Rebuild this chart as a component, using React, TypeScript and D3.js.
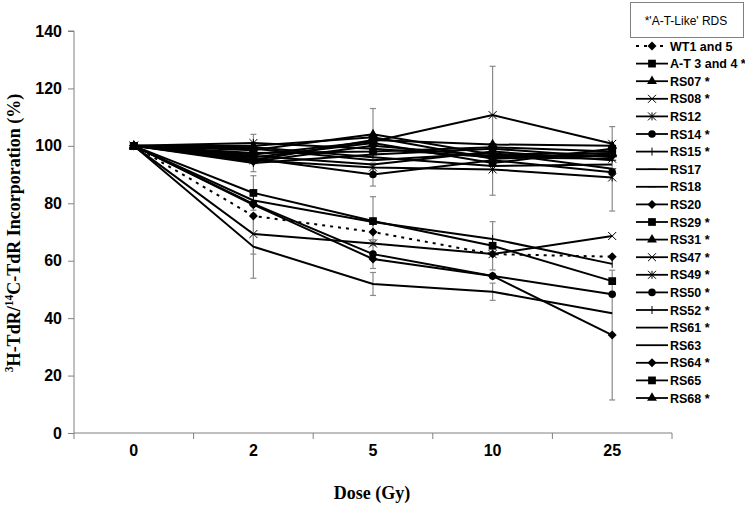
import * as d3 from "d3";
import { useEffect, useRef } from "react";

const doses = ["0", "2", "5", "10", "25"];
const yTicks = [0, 20, 40, 60, 80, 100, 120, 140];

const seriesNames = [
  "WT1 and 5", "A-T 3 and 4 *", "RS07 *", "RS08 *", "RS12", "RS14 *", "RS15 *",
  "RS17", "RS18", "RS20", "RS29 *", "RS31 *", "RS47 *", "RS49 *", "RS50 *",
  "RS52 *", "RS61 *", "RS63", "RS64 *", "RS65", "RS68 *",
];
const seriesMarkers = [
  "diamond", "square", "triangle", "cross", "star", "circle", "plus",
  "dash", "dash", "diamond", "square", "triangle", "cross", "star", "circle",
  "plus", "none", "none", "diamond", "square", "triangle",
];
const seriesValues = [
  [100, 75.6, 70, 62.3, 61.4],
  [100, 83.6, 73.8, 65.2, 52.9],
  [100, 98.5, 104, 97, 97.5],
  [100, 97, 101.5, 110.7, 100.7],
  [100, 101, 99, 96, 95.5],
  [100, 95.5, 90, 95, 90.8],
  [100, 94, 97, 99, 96],
  [100, 99, 95, 97.5, 92],
  [100, 96.5, 93.5, 98, 95],
  [100, 94.5, 100, 96.5, 96.5],
  [100, 97.5, 98, 99.5, 98],
  [100, 100, 103, 95.5, 97],
  [100, 69.3, 66, 62.3, 68.6],
  [100, 95, 92.5, 91.8, 89],
  [100, 79.8, 62.3, 54.7, 48.3],
  [100, 81, 73.5, 67.6, 58.9],
  [100, 64.9, 51.9, 49.2, 41.7],
  [100, 99.5, 96, 93, 93.5],
  [100, 79.5, 60.6, 54.7, 34.1],
  [100, 96, 101, 94, 99],
  [100, 95, 102, 100.5, 100],
];
// error (+/-) per series and dose, 0 = none
const seriesErrors = [
  [0, 0, 0, 0, 0],
  [0, 6, 8.5, 8.4, 0],
  [0, 0, 9, 0, 0],
  [0, 0, 0, 17, 0],
  [0, 0, 0, 0, 0],
  [0, 0, 4, 0, 0],
  [0, 0, 0, 0, 0],
  [0, 0, 0, 0, 14.7],
  [0, 0, 0, 0, 0],
  [0, 0, 0, 0, 0],
  [0, 6.5, 0, 0, 0],
  [0, 0, 0, 0, 0],
  [0, 7, 0, 0, 0],
  [0, 0, 0, 9, 0],
  [0, 0, 5, 0, 0],
  [0, 0, 0, 0, 0],
  [0, 11, 4, 3, 0],
  [0, 0, 0, 0, 0],
  [0, 0, 0, 0, 22.6],
  [0, 0, 0, 0, 0],
  [0, 0, 0, 0, 0],
];

const W = 745;
const H = 505;
const plot = { left: 74, right: 672, top: 31, bottom: 433 };

function markerPath(kind: string): string | null {
  const s = 4;
  switch (kind) {
    case "diamond": return "M0,-4.5L4.5,0L0,4.5L-4.5,0Z";
    case "square": return d3.symbol(d3.symbolSquare, 60)() as string;
    case "triangle": return d3.symbol(d3.symbolTriangle, 42)() as string;
    case "circle": return d3.symbol(d3.symbolCircle, 45)() as string;
    case "cross": return `M${-s},${-s}L${s},${s}M${-s},${s}L${s},${-s}`;
    case "star": return `M${-s},${-s}L${s},${s}M${-s},${s}L${s},${-s}M0,${-s}L0,${s}`;
    case "plus": return `M0,${-s}L0,${s}`;
    case "dash": return `M${-s},0L${s},0`;
    default: return null;
  }
}
const filled = (k: string) => ["diamond", "square", "triangle", "circle"].includes(k);

export default function App() {
  const yAxisRef = useRef<SVGGElement>(null);
  const xAxisRef = useRef<SVGGElement>(null);

  const x = d3.scaleBand(doses, [plot.left, plot.right]);
  const cx = (d: string) => (x(d) as number) + x.bandwidth() / 2;
  const y = d3.scaleLinear([0, 140], [plot.bottom, plot.top]);
  const line = d3.line<number>().x((_, i) => cx(doses[i])).y((v) => y(v));

  useEffect(() => {
    const ya = d3.select(yAxisRef.current!);
    ya.call(d3.axisLeft(y).tickValues(yTicks).tickSize(6).tickPadding(6));
    ya.select(".domain").attr("stroke", "#808080").attr("d", `M-6,${plot.top}H0V${plot.bottom}`);
    ya.selectAll(".tick line").attr("stroke", "#808080");
    ya.selectAll(".tick text")
      .attr("font-family", "Liberation Sans, Arial, sans-serif")
      .attr("font-size", 16).attr("font-weight", "bold").attr("fill", "#000");

    const xa = d3.select(xAxisRef.current!);
    xa.call(d3.axisBottom(x).tickSize(0).tickPadding(12));
    xa.select(".domain").attr("stroke", "#808080").attr("d", `M${plot.left},0H${plot.right}`);
    xa.selectAll(".tick text")
      .attr("font-family", "Liberation Sans, Arial, sans-serif")
      .attr("font-size", 16).attr("font-weight", "bold").attr("fill", "#000");
    const bounds = doses.map((d) => x(d) as number).concat([plot.right]);
    xa.selectAll(".bound").data(bounds).join("line").attr("class", "bound")
      .attr("x1", (d) => d).attr("x2", (d) => d).attr("y1", 0).attr("y2", 6)
      .attr("stroke", "#808080");
  }, []);

  const legendY = (i: number) => 46 + i * 17.6;

  return (
    <svg width={W} height={H} style={{ position: "absolute", left: 0, top: 0, background: "#fff" }}>
      <g ref={yAxisRef} transform={`translate(${plot.left},0)`} />
      <g ref={xAxisRef} transform={`translate(0,${plot.bottom})`} />

      {/* error bars */}
      <g stroke="#8a8a8a" strokeWidth={1.2}>
        {seriesErrors.map((errs, si) =>
          errs.map((e, di) => {
            if (!e) return null;
            const v = seriesValues[si][di];
            const px = cx(doses[di]);
            return (
              <g key={`${si}-${di}`}>
                <line x1={px} x2={px} y1={y(v + e)} y2={y(v - e)} />
                <line x1={px - 3} x2={px + 3} y1={y(v + e)} y2={y(v + e)} />
                <line x1={px - 3} x2={px + 3} y1={y(v - e)} y2={y(v - e)} />
              </g>
            );
          })
        )}
      </g>

      {/* lines */}
      <g fill="none" stroke="#000" strokeWidth={2}>
        {seriesValues.map((vals, si) => (
          <path key={si} d={line(vals) as string} strokeDasharray={si === 0 ? "3,5" : undefined} />
        ))}
      </g>

      {/* markers */}
      <g>
        {seriesValues.map((vals, si) => {
          const p = markerPath(seriesMarkers[si]);
          if (!p) return null;
          const f = filled(seriesMarkers[si]);
          return vals.map((v, di) => (
            <path key={`${si}-${di}`} d={p} transform={`translate(${cx(doses[di])},${y(v)})`}
              fill={f ? "#000" : "none"} stroke="#000" strokeWidth={f ? 0 : 1} />
          ));
        })}
      </g>

      {/* axis titles */}
      <text x={372} y={499} textAnchor="middle" fontFamily="Liberation Serif, Times New Roman, serif"
        fontWeight="bold" fontSize={18}>Dose (Gy)</text>
      <text transform="translate(20,233) rotate(-90)" textAnchor="middle"
        fontFamily="Liberation Serif, Times New Roman, serif" fontWeight="bold" fontSize={18}>
        <tspan fontSize={11.5} dy={-7}>3</tspan>
        <tspan dy={7}>H-TdR/</tspan>
        <tspan fontSize={11.5} dy={-7}>14</tspan>
        <tspan dy={7}>C-TdR Incorporation (%)</tspan>
      </text>

      {/* legend */}
      <rect x={630.5} y={2.5} width={113} height={35} fill="#fff" stroke="#808080" />
      <text x={686} y={25} textAnchor="middle" fontFamily="Liberation Sans, Arial, sans-serif" fontSize={12}>
        *'A-T-Like' RDS
      </text>
      {seriesNames.map((name, i) => {
        const ly = legendY(i);
        const p = markerPath(seriesMarkers[i]);
        const f = filled(seriesMarkers[i]);
        return (
          <g key={name}>
            <line x1={636} x2={668} y1={ly} y2={ly} stroke="#000" strokeWidth={1.8}
              strokeDasharray={i === 0 ? "3,5" : undefined} />
            {p && (
              <path d={p} transform={`translate(652,${ly})`} fill={f ? "#000" : "none"}
                stroke="#000" strokeWidth={f ? 0 : 1} />
            )}
            <text x={670} y={ly + 4.5} fontFamily="Liberation Sans, Arial, sans-serif" fontSize={12.5}
              fontWeight="bold">{name}</text>
          </g>
        );
      })}
    </svg>
  );
}
